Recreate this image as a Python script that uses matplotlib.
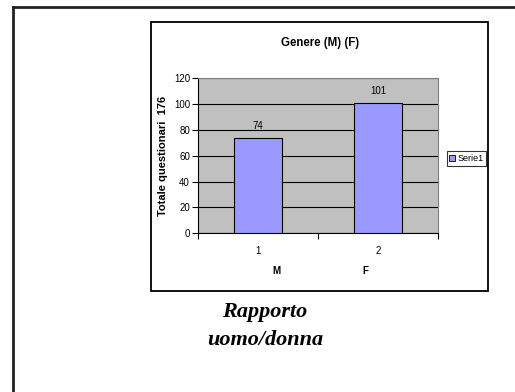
import matplotlib
matplotlib.use("Agg")
import matplotlib.pyplot as plt
from matplotlib.patches import Rectangle, Patch
from matplotlib.lines import Line2D

categories = ["1", "2"]
sub_labels = ["M", "F"]
values = [74, 101]
series_name = "Serie1"
title = "Genere (M) (F)"
ylabel = "Totale questionari  176"
caption = "Rapporto\nuomo/donna"

W, H = 515, 392
fig = plt.figure(figsize=(W / 100, H / 100), dpi=100)
fig.patch.set_facecolor("white")

def fx(x):
    return x / W

def fy(y):
    return 1 - y / H

# outer slide frame (cropped at right/bottom)
fig.add_artist(Line2D([fx(13), fx(515)], [fy(7), fy(7)], color="#222222", lw=2.0, transform=fig.transFigure))
fig.add_artist(Line2D([fx(13), fx(13)], [fy(7), fy(392)], color="#222222", lw=2.0, transform=fig.transFigure))

# chart box
fig.add_artist(Rectangle((fx(151), fy(291)), fx(488) - fx(151), fy(22) - fy(291),
                         fill=False, ec="black", lw=1.3, transform=fig.transFigure))

sans = "Liberation Sans"
ax = fig.add_axes([fx(198.3), fy(233.3), fx(438.3) - fx(198.3), fy(78.3) - fy(233.3)])
ax.set_facecolor("#C0C0C0")
x = list(range(1, len(values) + 1))
bars = ax.bar(x, values, width=0.4, color="#9999FF", edgecolor="black", linewidth=0.8, zorder=3, label=series_name)
ax.set_xlim(0.5, len(values) + 0.5)
ax.set_ylim(0, 120)
ax.set_yticks(range(0, 121, 20))
ax.yaxis.grid(True, color="black", lw=0.8, zorder=1)
ax.set_axisbelow(True)
for s in ["top", "right"]:
    ax.spines[s].set_color("#808080")
    ax.spines[s].set_linewidth(0.8)
for s in ["left", "bottom"]:
    ax.spines[s].set_color("black")
    ax.spines[s].set_linewidth(0.8)

ax.set_xticks(x)
ax.set_xticklabels(categories, fontfamily=sans, fontsize=7)
ax.tick_params(axis="x", which="major", length=0, pad=9)
ax.set_xticks([i + 0.5 for i in range(0, len(values) + 1)], minor=True)
ax.tick_params(axis="x", which="minor", length=4, width=0.8, direction="out", color="black")
ax.tick_params(axis="y", length=4, width=0.8, direction="out", labelsize=7, pad=2)
for lbl in ax.get_yticklabels():
    lbl.set_fontfamily(sans)

for xi, v in zip(x, values):
    ax.annotate(str(v), (xi, v), xytext=(0, 5), textcoords="offset points",
                ha="center", va="bottom", fontsize=7, fontfamily=sans)

# sub labels M / F
sub_x = [276, 365]
for sx, s in zip(sub_x, sub_labels):
    fig.text(fx(sx), fy(270.7), s, ha="center", va="center", fontsize=7, fontweight="bold", fontfamily=sans)

ax.set_ylabel(ylabel, fontsize=8, fontweight="bold", fontfamily=sans)
ax.yaxis.label.set_fontstretch("expanded")
ax.yaxis.set_label_coords(-0.125, 0.5)

fig.text(fx(320), fy(42.7), title, ha="center", va="center", fontsize=8.3, fontweight="bold", fontfamily=sans)

leg = fig.legend(handles=[Patch(facecolor="#9999FF", edgecolor="black", lw=0.6)], labels=[series_name],
                 loc="center", bbox_to_anchor=(fx(466.5), fy(158.5)), frameon=True, fancybox=False,
                 prop={"family": sans, "size": 6.5}, handlelength=0.6, handleheight=0.6,
                 handletextpad=0.3, borderpad=0.3, borderaxespad=0)
leg.get_frame().set_edgecolor("black")
leg.get_frame().set_linewidth(0.8)

fig.text(fx(265), fy(326), caption, ha="center", va="center", fontsize=16, fontweight="bold",
         fontstyle="italic", fontfamily="Liberation Serif", linespacing=1.5)

fig.savefig("out.png", dpi=100)
